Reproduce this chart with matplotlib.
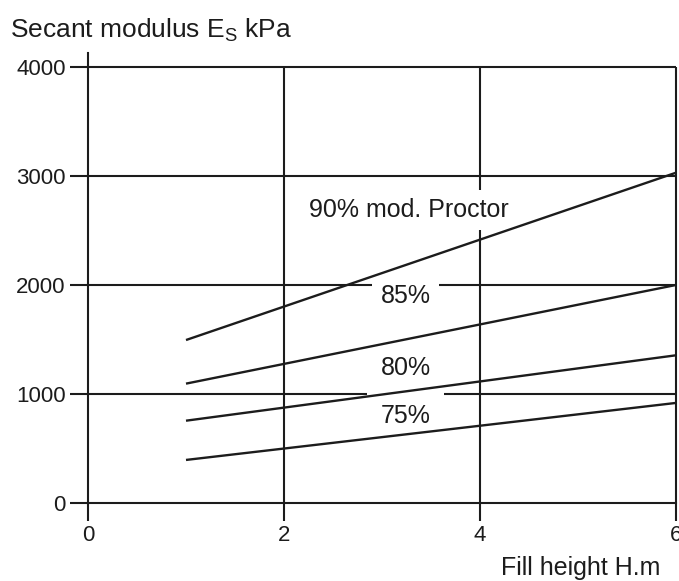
import numpy as np
import matplotlib.pyplot as plt

plt.rcParams["font.family"] = ["Liberation Sans", "DejaVu Sans"]

# fill height (m) at the ends of each curve
fill_height = [1, 6]
proctor_90 = [1495, 3030]
proctor_85 = [1095, 2000]
proctor_80 = [755, 1355]
proctor_75 = [395, 918]

curve_labels = ["90% mod. Proctor", "85%", "80%", "75%"]
curve_values = [proctor_90, proctor_85, proctor_80, proctor_75]

x_ticks = [0, 2, 4, 6]
y_ticks = [0, 1000, 2000, 3000, 4000]

# label placement (data coords) and white box padding
label_xy = [(3.27, 2690), (3.24, 1900), (3.24, 1235), (3.24, 800)]
label_pad = [6, 6, 4, 10]

ink = "#1c1c1c"

fig = plt.figure(figsize=(6.79, 5.81), dpi=100)
ax = fig.add_axes([88 / 679, 78 / 581, 588 / 679, 450 / 581])

ax.set_xlim(0, 6)
ax.set_ylim(0, 4128)

# grid drawn by hand so it stops at 4000
for yv in y_ticks[1:]:
    ax.plot([0, 6], [yv, yv], color=ink, lw=1.5, zorder=1, solid_capstyle="butt")
for xv in x_ticks[1:]:
    ax.plot([xv, xv], [0, 4000], color=ink, lw=1.5, zorder=1, solid_capstyle="butt",
            clip_on=False)

for label, vals, (tx, ty), pad in zip(curve_labels, curve_values, label_xy, label_pad):
    ax.plot(fill_height, vals, color=ink, lw=1.7, zorder=4, solid_capstyle="butt")
    ax.text(tx, ty, label, ha="center", va="center", fontsize=18, color=ink, zorder=3,
            bbox=dict(facecolor="white", edgecolor="none", pad=pad))

ax.spines["top"].set_visible(False)
ax.spines["right"].set_visible(False)
for s in ("left", "bottom"):
    ax.spines[s].set_linewidth(1.5)
    ax.spines[s].set_color(ink)

ax.set_xticks(x_ticks)
ax.set_yticks(y_ticks)
ax.tick_params(axis="both", length=13, width=1.5, color=ink, labelsize=16,
               labelcolor=ink, pad=3)

fig.text(10 / 679, 1 - 30 / 581, "Secant modulus E$_{\\mathregular{S}}$ kPa",
         fontsize=19, color=ink, ha="left", va="center")
fig.text(660 / 679, 1 - 568 / 581, "Fill height H.m", fontsize=18, color=ink,
         ha="right", va="center")

fig.savefig("out.png", dpi=100)
